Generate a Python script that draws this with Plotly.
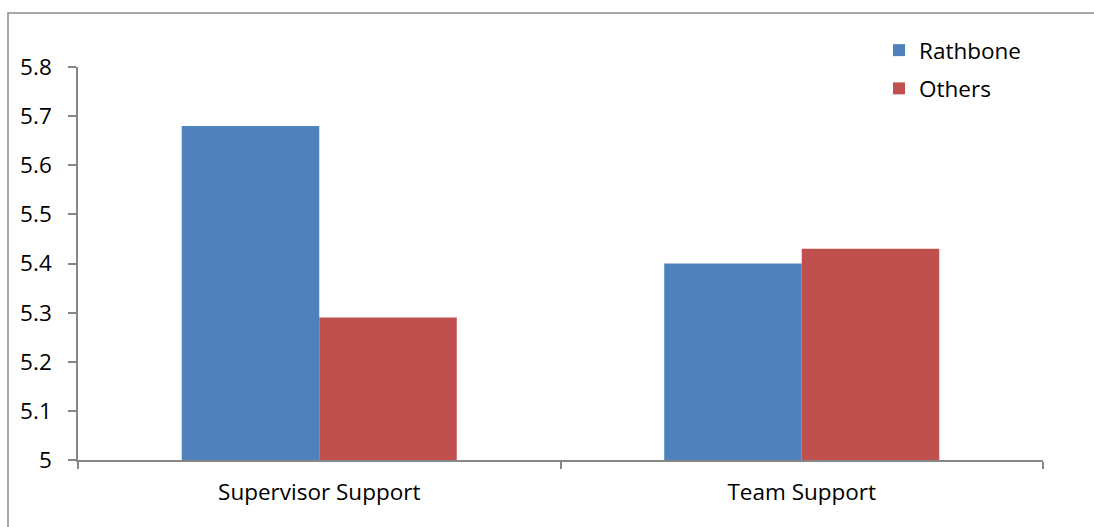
import plotly.graph_objects as go

categories = ["Supervisor Support", "Team Support"]
rathbone = [5.68, 5.40]
others = [5.29, 5.43]
y_ticks = [5.0, 5.1, 5.2, 5.3, 5.4, 5.5, 5.6, 5.7, 5.8]
y_tick_text = ["5", "5.1", "5.2", "5.3", "5.4", "5.5", "5.6", "5.7", "5.8"]

FONT = "Open Sans"
FONT_SIZE = 22.5
AXIS_GREY = "#868686"

# plot area in pixels: x 78..1043, y 67..460
W, H = 1094, 527
L, R, T, B = 78, 51, 67, 67
pw, ph = W - L - R, H - T - B

def px_x(x):
    return (x - L) / pw

def px_y(y):
    return (H - B - y) / ph

fig = go.Figure()
fig.add_trace(go.Bar(name="Rathbone", x=categories, y=rathbone,
                     marker=dict(color="#4F81BD", line=dict(width=0)),
                     legendgroup="a"))
fig.add_trace(go.Bar(name="Others", x=categories, y=others,
                     marker=dict(color="#C0504D", line=dict(width=0)),
                     legendgroup="b"))

fig.update_layout(
    width=W, height=H,
    margin=dict(l=L, r=R, t=T, b=B, autoexpand=False),
    paper_bgcolor="white", plot_bgcolor="white",
    barmode="group", bargap=0.43, bargroupgap=0,
    font=dict(family=FONT, size=FONT_SIZE, color="#000000"),
    legend=dict(x=px_x(879), y=px_y(29), xanchor="left", yanchor="top",
                bgcolor="rgba(0,0,0,0)", tracegroupgap=6,
                font=dict(family=FONT, size=FONT_SIZE)),
    xaxis=dict(showline=True, linecolor=AXIS_GREY, linewidth=1.5,
               ticks="outside", tickson="boundaries", ticklen=7,
               tickcolor=AXIS_GREY, tickwidth=1.5, showgrid=False,
               ticklabelstandoff=11),
    yaxis=dict(range=[5.0, 5.8], tickvals=y_ticks, ticktext=y_tick_text,
               showline=True, linecolor=AXIS_GREY, linewidth=1.5,
               ticks="outside", ticklen=8, tickcolor=AXIS_GREY, tickwidth=1.5,
               showgrid=False, zeroline=False, ticklabelstandoff=12),
    shapes=[dict(type="rect", xref="paper", yref="paper",
                 x0=px_x(8), x1=px_x(1097), y0=px_y(540), y1=px_y(13),
                 line=dict(color="#8C8C8C", width=1.5), layer="below")],
)

fig.write_html("out.html")
